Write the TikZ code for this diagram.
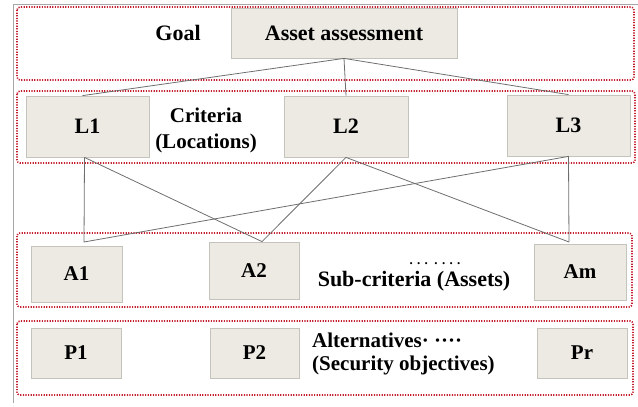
\documentclass[tikz,border=0pt]{standalone}
\usepackage{fontspec}
\setmainfont{Liberation Serif}
\usetikzlibrary{shapes,arrows}
\definecolor{boxfill}{RGB}{236,234,226}
\definecolor{boxline}{RGB}{196,196,188}
\definecolor{grpline}{RGB}{196,32,48}
\definecolor{wirecol}{RGB}{110,110,110}

\begin{document}
\begin{tikzpicture}[x=1pt,y=-1pt]
      \tikzstyle{point} = [coordinate]
      \tikzstyle{box} = [rectangle, draw=boxline, fill=boxfill, line width=0.8pt, inner sep=0pt, font=\fontsize{22}{26}\selectfont\bfseries]
      \tikzstyle{group} = [draw=grpline, line width=1.6pt, dash pattern=on 1.2pt off 1.4pt, rounded corners=3pt]
      \tikzstyle{label} = [inner sep=0pt, font=\fontsize{22}{26}\selectfont\bfseries]
      \tikzstyle{wire} = [draw=wirecol, line width=0.8pt]
      \useasboundingbox (0,0) rectangle (638,407);
      \draw [gray!70, line width=0.8pt] (13,403)--(13,4)--(638,4);
      % level frames
      \draw [group] (17,7) rectangle (634,80);
      \draw [group] (17,91) rectangle (635,163);
      \draw [group] (17,233) rectangle (632,307);
      \draw [group] (17,321) rectangle (633,395);
      % goal
      \node (goal) [box, minimum width=226pt, minimum height=50pt] at (344,33) {Asset assessment};
      \node (goaltxt) [label] at (178,33) {Goal};
      % criteria
      \node (L1) [box, minimum width=123pt, minimum height=61pt] at (87.5,126.5) {L1};
      \node (L2) [box, minimum width=124pt, minimum height=61pt] at (346,126.5) {L2};
      \node (L3) [box, minimum width=123pt, minimum height=61pt] at (568.5,125.5) {L3};
      \node (crittxt) [label, align=center, font=\fontsize{21}{26}\selectfont\bfseries] at (206,130) {Criteria\\(Locations)};
      % sub-criteria
      \node (A1) [box, minimum width=91pt, minimum height=56pt, font=\fontsize{21}{26}\selectfont\bfseries] at (76.5,274) {A1};
      \node (A2) [box, minimum width=90pt, minimum height=57pt, font=\fontsize{21}{26}\selectfont\bfseries] at (254,270.5) {A2};
      \node (Am) [box, minimum width=92pt, minimum height=56pt, font=\fontsize{21}{26}\selectfont\bfseries] at (580,272) {Am};
      \node (subtxt) [label] at (414,281) {Sub-criteria (Assets)};
      \node (subdots) [inner sep=0pt, font=\fontsize{13}{13}\selectfont\bfseries] at (435,264) {. . .\ \ . . . .};
      % alternatives
      \node (P1) [box, minimum width=90pt, minimum height=50pt, font=\fontsize{21}{26}\selectfont\bfseries] at (76,353) {P1};
      \node (P2) [box, minimum width=89pt, minimum height=50pt, font=\fontsize{21}{26}\selectfont\bfseries] at (254.5,353) {P2};
      \node (Pr) [box, minimum width=90pt, minimum height=50pt, font=\fontsize{21}{26}\selectfont\bfseries] at (582,353) {Pr};
      \node (alttxt) [label, align=left, anchor=west, font=\fontsize{21}{23}\selectfont\bfseries] at (312,354) {Alternatives· ····\\(Security objectives)};
      % joints above the assets
      \coordinate (a1in) at (84,242);
      \coordinate (a2in) at ([xshift=8pt]A2.north);
      \coordinate (amin) at (569,242);
      % connectors
      \draw [wire] (goal.south)--([xshift=-5pt]L1.north);
      \draw [wire] (goal.south)--(L2.north);
      \draw [wire] (goal.south)--(L3.north);
      \draw [wire] ([xshift=-3pt]L1.south)--(a1in)--(L3.south)--(amin);
      \draw [wire] ([xshift=-3pt]L1.south)--(a2in)--(L2.south)--(amin);
\end{tikzpicture}
\end{document}
